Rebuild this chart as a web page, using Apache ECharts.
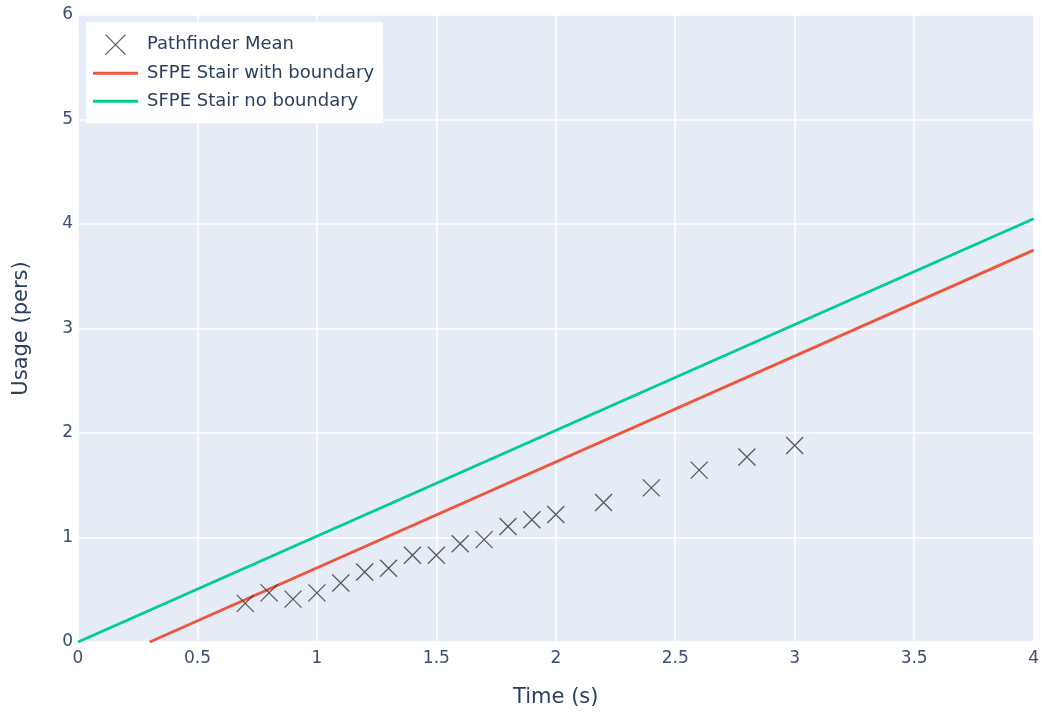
<!DOCTYPE html>
<html>
<head>
<meta charset="utf-8">
<script src="https://cdn.jsdelivr.net/npm/echarts@6/dist/echarts.min.js"></script>
<style>html,body{margin:0;padding:0;background:#fff;}#c{width:1042px;height:713px;}</style>
</head>
<body>
<div id="c"></div>
<script>
const meanX = [0.7,0.8,0.9,1.0,1.1,1.2,1.3,1.4,1.5,1.6,1.7,1.8,1.9,2.0,2.2,2.4,2.6,2.8,3.0];
const meanY = [0.37,0.47,0.41,0.47,0.565,0.67,0.705,0.83,0.83,0.94,0.98,1.105,1.17,1.22,1.335,1.475,1.645,1.77,1.88];
const withBoundaryX = [0.3, 4.0];
const withBoundaryY = [0.0, 3.75];
const noBoundaryX = [0.0, 4.0];
const noBoundaryY = [0.0, 4.05];
const seriesNames = ['Pathfinder Mean','SFPE Stair with boundary','SFPE Stair no boundary'];

const zip = (a,b) => a.map((v,i)=>[v,b[i]]);
const font = '"DejaVu Sans", Verdana, sans-serif';
const txt = '#2a3f5f';
const xPath = 'path://M0,0L10,10M10,0L0,10';
const linePath = 'path://M0,0L44,0L44,3L0,3Z';
const chart = echarts.init(document.getElementById('c'));
chart.setOption({
  backgroundColor: '#fff',
  animation: false,
  textStyle: {fontFamily: font, color: txt},
  grid: {left: 78, right: 6, top: 15, bottom: 68, containLabel: false, show: true, backgroundColor: '#E5ECF6', borderWidth: 0},
  xAxis: {
    type: 'value', min: 0, max: 4, interval: 0.5,
    name: 'Time (s)', nameLocation: 'middle', nameGap: 45,
    nameTextStyle: {fontSize: 21, color: txt, fontFamily: font},
    axisLine: {show: false}, axisTick: {show: false},
    axisLabel: {fontSize: 17, color: '#3b4f6f', margin: 8, fontFamily: font},
    splitLine: {lineStyle: {color: '#fff', width: 1.5}}
  },
  yAxis: {
    type: 'value', min: 0, max: 6, interval: 1,
    name: 'Usage (pers)', nameLocation: 'middle', nameGap: 46,
    nameTextStyle: {fontSize: 21, color: txt, fontFamily: font},
    axisLine: {show: false}, axisTick: {show: false},
    axisLabel: {fontSize: 17, color: '#3b4f6f', margin: 5, fontFamily: font},
    splitLine: {lineStyle: {color: '#fff', width: 1.5}}
  },
  legend: {
    left: 86, top: 22, orient: 'vertical',
    backgroundColor: '#fff', padding: [12, 9, 12, 7], itemGap: 8,
    itemWidth: 45, itemHeight: 20,
    textStyle: {fontSize: 18, lineHeight: 20, color: txt, fontFamily: font, padding: [0, 0, 0, 4]},
    data: [
      {name: seriesNames[0], icon: xPath, itemStyle: {color: 'transparent', borderColor: '#333', borderWidth: 1.3}},
      {name: seriesNames[1], icon: linePath, itemStyle: {color: '#EF553B', borderWidth: 0}},
      {name: seriesNames[2], icon: linePath, itemStyle: {color: '#00CC96', borderWidth: 0}}
    ]
  },
  series: [
    {
      name: seriesNames[0], type: 'scatter', z: 5,
      symbol: xPath, symbolSize: 17,
      itemStyle: {color: 'transparent', borderColor: '#333', borderWidth: 1.3},
      data: zip(meanX, meanY)
    },
    {
      name: seriesNames[1], type: 'line', showSymbol: false, symbol: 'none',
      lineStyle: {color: '#EF553B', width: 2.8}, itemStyle: {color: '#EF553B'},
      data: zip(withBoundaryX, withBoundaryY)
    },
    {
      name: seriesNames[2], type: 'line', showSymbol: false, symbol: 'none',
      lineStyle: {color: '#00CC96', width: 2.8}, itemStyle: {color: '#00CC96'},
      data: zip(noBoundaryX, noBoundaryY)
    }
  ]
});
</script>
</body>
</html>
